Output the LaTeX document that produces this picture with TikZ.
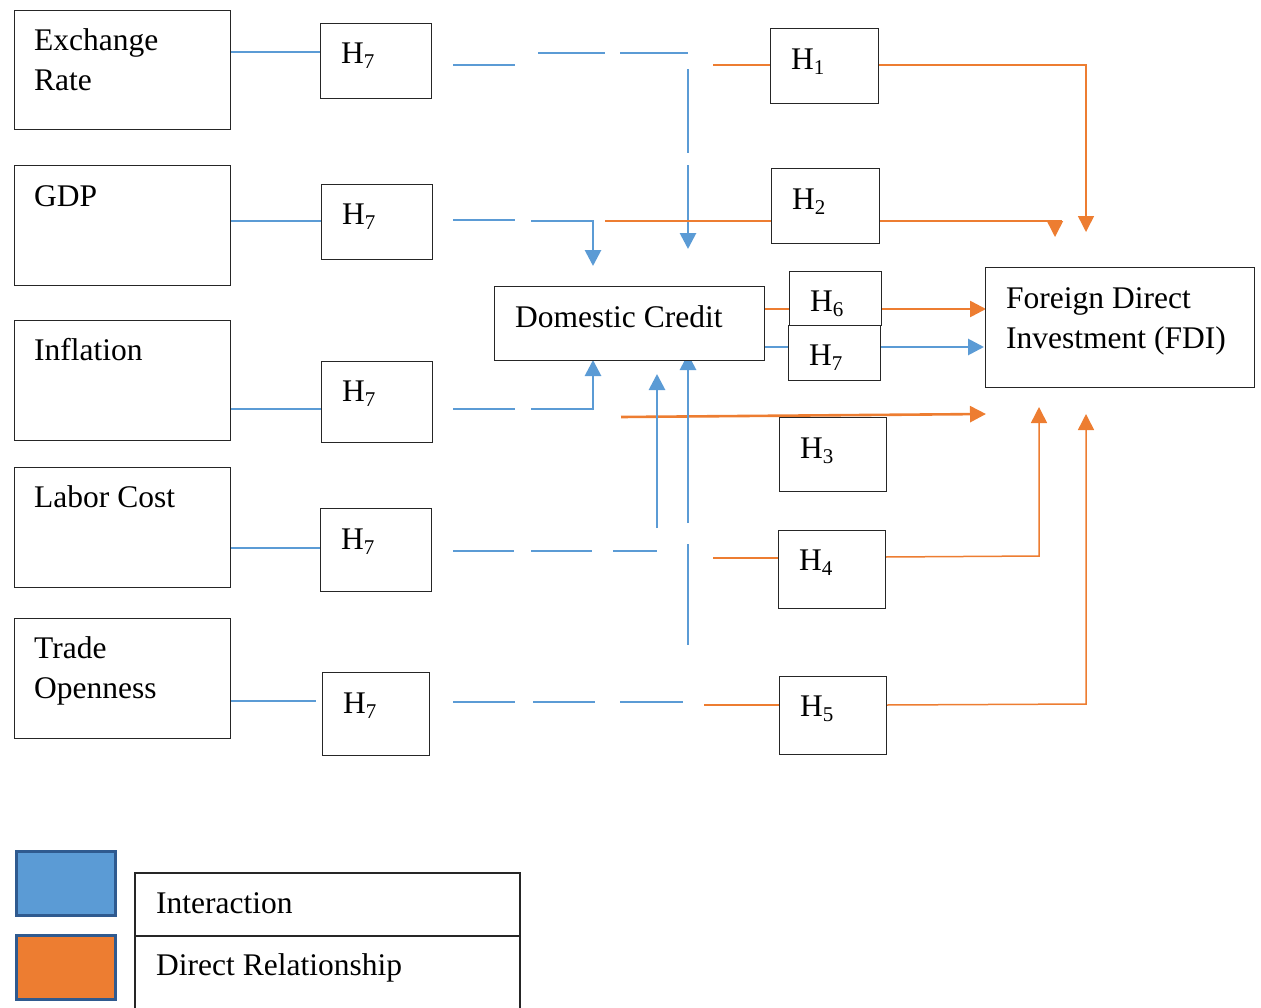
\documentclass[tikz,border=0pt]{standalone}
\usepackage{fontspec}
\setmainfont{Liberation Serif}
\usetikzlibrary{arrows.meta}
\definecolor{ibl}{HTML}{5B9BD5}
\definecolor{dor}{HTML}{ED7D31}
\definecolor{lgb}{HTML}{2F5A8F}
\newcommand{\Hsub}[1]{H\raisebox{-0.18em}{\fontsize{21}{21}\selectfont #1}}
\tikzset{
  bx/.style={draw=black!85, line width=1.3pt, fill=white, anchor=north west, inner sep=0pt},
  lbl/.style={anchor=base west, inner sep=0pt, font=\fontsize{31.5}{39}\selectfont},
  bl/.style={draw=ibl, line width=1.5pt},
  blt/.style={draw=ibl, line width=2.8pt},
  orl/.style={draw=dor, line width=1.5pt},
  ort/.style={draw=dor, line width=2.6pt},
  tip/.style={-{Triangle[length=16pt,width=16pt]}},
}
\begin{document}
\begin{tikzpicture}[x=1pt,y=-1pt]
\useasboundingbox (0,0) rectangle (1261,1007);
\clip (0,0) rectangle (1261,1007);
% ---------- connectors ----------
% row 1
\draw[bl] (230,52) -- (320,52);
\draw[bl] (453,65) -- (515,65);
\draw[bl] (538,53) -- (605,53);
\draw[bl] (620,53) -- (688,53);
\draw[bl] (688,69) -- (688,153);
\draw[blt,tip] (688,165) -- (688,249);
\draw[orl] (713,65) -- (770,65);
\draw[orl,tip] (878,65) -- (1086,65) -- (1086,232);
% row 2
\draw[bl] (230,221) -- (321,221);
\draw[bl] (453,220) -- (515,220);
\draw[bl] (531,221) -- (593,221);
\draw[blt,tip] (593,220) -- (593,266);
\draw[orl] (605,221) -- (771,221);
\draw[orl] (879,221) -- (1062,221);
\draw[orl,tip] (1055,221) -- (1055,237);
% row 3
\draw[bl] (230,409) -- (321,409);
\draw[bl] (453,409) -- (515,409);
\draw[bl] (531,409) -- (593,409);
\draw[blt,tip] (593,410) -- (593,360);
\draw[ort,tip] (621,417) -- (986,414);
% row 4
\draw[bl] (230,548) -- (320,548);
\draw[bl] (453,551) -- (514,551);
\draw[bl] (531,551) -- (592,551);
\draw[bl] (613,551) -- (657,551);
\draw[blt,tip] (657,528) -- (657,374);
\draw[blt,tip] (688,523) -- (688,354);
\draw[bl] (688,544) -- (688,645);
\draw[orl] (713,558) -- (778,558);
\draw[orl,tip] (885,557) -- (1039,556) -- (1039,407);
% row 5
\draw[bl] (230,701) -- (316,701);
\draw[bl] (453,702) -- (515,702);
\draw[bl] (533,702) -- (595,702);
\draw[bl] (620,702) -- (683,702);
\draw[orl] (704,705) -- (779,705);
\draw[orl,tip] (886,705) -- (1086,704) -- (1086,414);
% domestic credit to FDI
\draw[ort] (764,309) -- (789,309);
\draw[ort,tip] (881,309) -- (986,309);
\draw[blt] (764,347) -- (788,347);
\draw[blt,tip] (880,347) -- (984,347);
% ---------- boxes ----------
\node[bx, minimum width=216pt, minimum height=119pt] (er) at (14,10) {};
\node[lbl] (ert1) at ([xshift=20pt,yshift=-40pt]er.north west) {Exchange};
\node[lbl] (ert2) at ([xshift=20pt,yshift=-80pt]er.north west) {Rate};
\node[bx, minimum width=216pt, minimum height=120pt] (gdp) at (14,165) {};
\node[lbl] (gdpt) at ([xshift=20pt,yshift=-41pt]gdp.north west) {GDP};
\node[bx, minimum width=216pt, minimum height=120pt] (inf) at (14,320) {};
\node[lbl] (inft) at ([xshift=20pt,yshift=-40pt]inf.north west) {Inflation};
\node[bx, minimum width=216pt, minimum height=120pt] (lab) at (14,467) {};
\node[lbl] (labt) at ([xshift=20pt,yshift=-40pt]lab.north west) {Labor Cost};
\node[bx, minimum width=216pt, minimum height=120pt] (tro) at (14,618) {};
\node[lbl] (trot1) at ([xshift=20pt,yshift=-40pt]tro.north west) {Trade};
\node[lbl] (trot2) at ([xshift=20pt,yshift=-80pt]tro.north west) {Openness};
% H7 column
\node[bx, minimum width=111pt, minimum height=75pt] (ha) at (320,23) {};
\node[lbl] at ([xshift=21pt,yshift=-40pt]ha.north west) {\Hsub{7}};
\node[bx, minimum width=111pt, minimum height=75pt] (hb) at (321,184) {};
\node[lbl] at ([xshift=21pt,yshift=-40pt]hb.north west) {\Hsub{7}};
\node[bx, minimum width=111pt, minimum height=81pt] (hc) at (321,361) {};
\node[lbl] at ([xshift=21pt,yshift=-40pt]hc.north west) {\Hsub{7}};
\node[bx, minimum width=111pt, minimum height=83pt] (hd) at (320,508) {};
\node[lbl] at ([xshift=21pt,yshift=-41pt]hd.north west) {\Hsub{7}};
\node[bx, minimum width=107pt, minimum height=83pt] (he) at (322,672) {};
\node[lbl] at ([xshift=21pt,yshift=-41pt]he.north west) {\Hsub{7}};
% right H column
\node[bx, minimum width=108pt, minimum height=75pt] (h1) at (770,28) {};
\node[lbl] at ([xshift=21pt,yshift=-41pt]h1.north west) {\Hsub{1}};
\node[bx, minimum width=108pt, minimum height=75pt] (h2) at (771,168) {};
\node[lbl] at ([xshift=21pt,yshift=-41pt]h2.north west) {\Hsub{2}};
\node[bx, minimum width=92pt, minimum height=54pt] (h6) at (789,271) {};
\node[lbl] at ([xshift=21pt,yshift=-40pt]h6.north west) {\Hsub{6}};
\node[bx, minimum width=92pt, minimum height=55pt] (h7) at (788,325) {};
\node[lbl] at ([xshift=21pt,yshift=-40pt]h7.north west) {\Hsub{7}};
\node[bx, minimum width=107pt, minimum height=74pt] (h3) at (779,417) {};
\node[lbl] at ([xshift=21pt,yshift=-41pt]h3.north west) {\Hsub{3}};
\node[bx, minimum width=107pt, minimum height=78pt] (h4) at (778,530) {};
\node[lbl] at ([xshift=21pt,yshift=-40pt]h4.north west) {\Hsub{4}};
\node[bx, minimum width=107pt, minimum height=78pt] (h5) at (779,676) {};
\node[lbl] at ([xshift=21pt,yshift=-40pt]h5.north west) {\Hsub{5}};
% domestic credit and FDI
\node[bx, minimum width=270pt, minimum height=74pt] (dc) at (494,286) {};
\node[lbl] at ([xshift=21pt,yshift=-41pt]dc.north west) {Domestic Credit};
\node[bx, minimum width=269pt, minimum height=120pt] (fdi) at (985,267) {};
\node[lbl] at ([xshift=21pt,yshift=-41pt]fdi.north west) {Foreign Direct};
\node[lbl] at ([xshift=21pt,yshift=-81pt]fdi.north west) {Investment (FDI)};
% ---------- legend ----------
\node[draw=lgb, line width=2.6pt, fill=ibl, anchor=north west, inner sep=0pt, minimum width=99pt, minimum height=64pt] (lgblue) at (15,850) {};
\node[draw=lgb, line width=2.6pt, fill=dor, anchor=north west, inner sep=0pt, minimum width=99pt, minimum height=64pt] (lgorange) at (15,934) {};
\coordinate (lt1) at (135,873);
\coordinate (lt2) at (520,873);
\draw[draw=black!85, line width=1.3pt] (135,1010) -- (lt1) -- (lt2) -- (520,1010);
\draw[draw=black!85, line width=1.3pt] (135,936) -- (520,936);
\node[lbl] (lgi) at (156,913) {Interaction};
\node[lbl] (lgd) at (156,975) {Direct Relationship};
\end{tikzpicture}
\end{document}
